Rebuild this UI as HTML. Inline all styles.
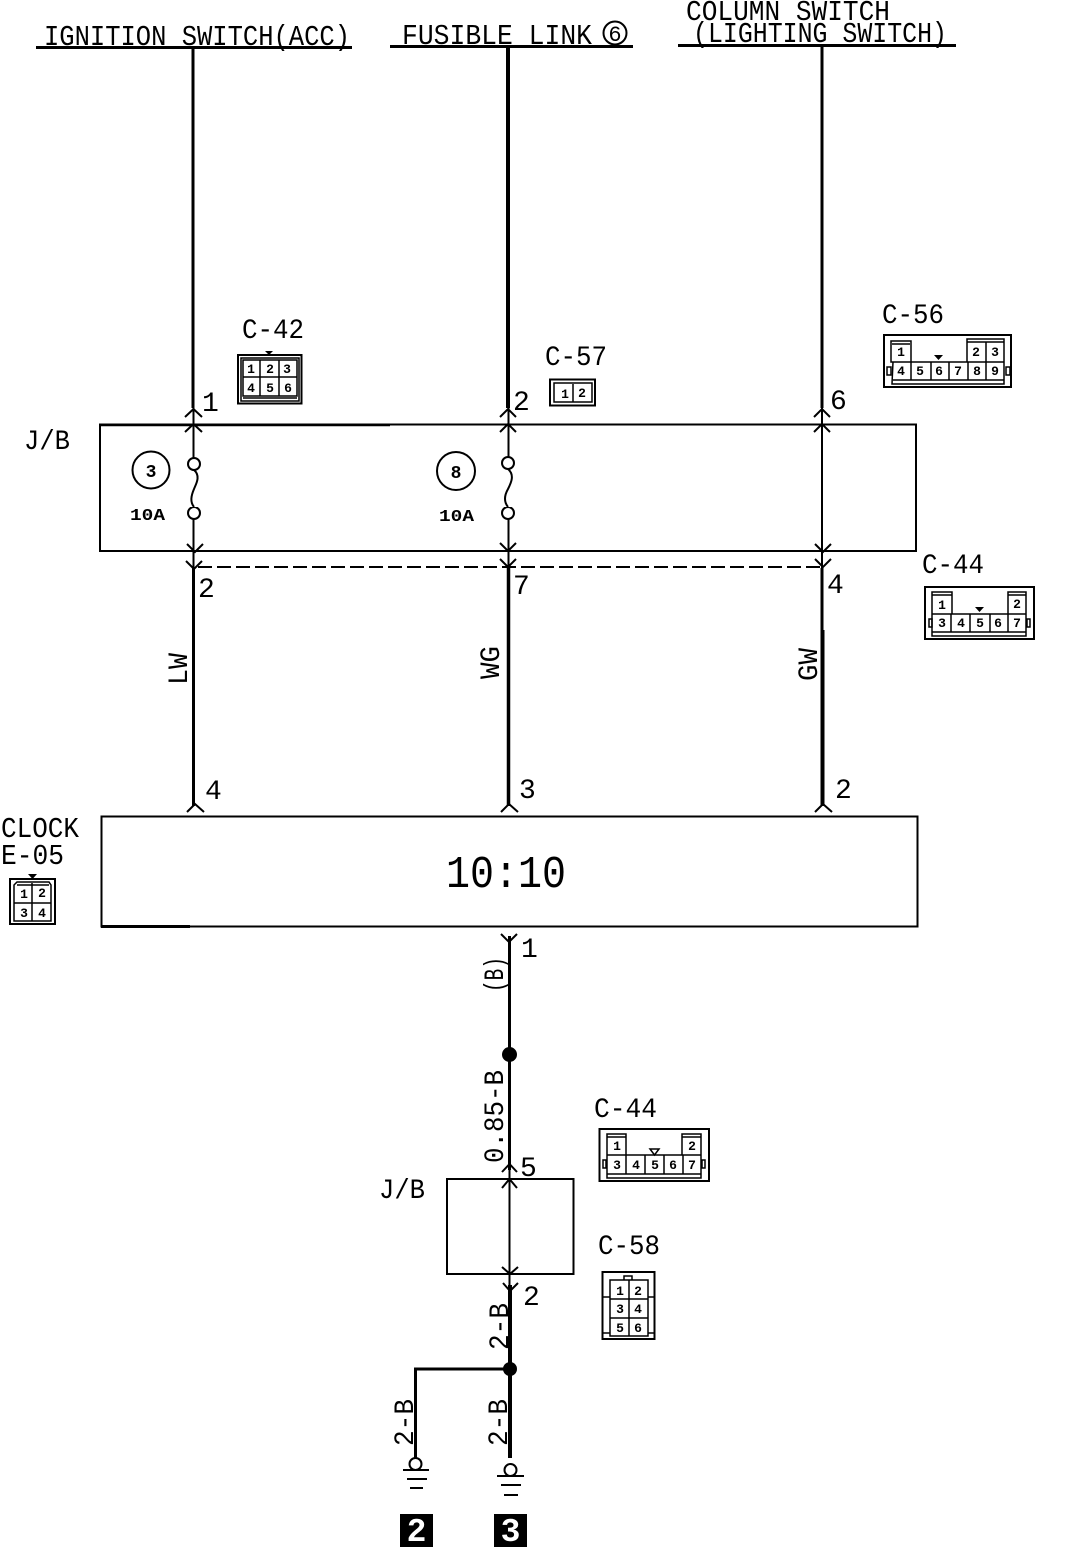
<!DOCTYPE html>
<html><head><meta charset="utf-8"><style>
html,body{margin:0;padding:0;background:#fff}
svg{display:block}
text{font-family:"Liberation Mono",monospace;fill:#000}
.l{font-size:29px}
.n{font-size:28px}
.c{font-size:13px;font-weight:bold;text-anchor:middle}
.w{fill:none;stroke:#000}
.b{fill:none;stroke:#000;stroke-width:2}
.cn{fill:none;stroke:#000;stroke-width:1.5}
</style></head><body>
<svg width="1072" height="1556" viewBox="0 0 1072 1556" xmlns="http://www.w3.org/2000/svg">
<rect width="1072" height="1556" fill="#fff"/>

<!-- top labels -->
<text class="l" x="44" y="45" textLength="306" lengthAdjust="spacingAndGlyphs">IGNITION SWITCH(ACC)</text>
<path d="M36 47.500H352" class="w" stroke-width="3"/>
<text class="l" x="402" y="44" textLength="190" lengthAdjust="spacingAndGlyphs">FUSIBLE LINK</text>
<circle cx="615" cy="33" r="11.500" class="b"/>
<text x="615" y="41" font-size="22" text-anchor="middle">6</text>
<path d="M390 46.500H633" class="w" stroke-width="3"/>
<text class="l" x="686" y="20" textLength="204" lengthAdjust="spacingAndGlyphs">COLUMN SWITCH</text>
<text class="l" x="693" y="42" textLength="254" lengthAdjust="spacingAndGlyphs">(LIGHTING SWITCH)</text>
<path d="M678 45.500H956" class="w" stroke-width="3"/>

<!-- main wires -->
<path d="M193 48V408" class="w" stroke-width="3"/>
<path d="M508 48V408" class="w" stroke-width="4"/>
<path d="M822 46V408" class="w" stroke-width="3"/>

<!-- J/B big -->
<rect x="100" y="424.500" width="816" height="126.500" class="b"/>
<path d="M100 425H390" class="w" stroke-width="2.500"/>
<text class="n" x="24" y="449" textLength="46" lengthAdjust="spacingAndGlyphs">J/B</text>
<path d="M193.500 408V570M508.500 408V570M822 408V570" class="w" stroke-width="2"/>
<!-- arrowheads -->
<path d="M185 417L193.500 409L202 417M185 432L193.500 424L202 432M500 417L508 409L516 417M500 432L508 424L516 432M814 417L822 409L830 417M814 432L822 424L830 432" class="b"/>
<path d="M187 544L195 552L203 544M186 561L194 569L202 561M500 543L508 551L516 543M500 559L508 567L516 559M815 544L823 552L831 544M815 559L823 567L831 559" class="b"/>
<!-- fuses -->
<circle cx="194" cy="464" r="6" fill="#fff" stroke="#000" stroke-width="2"/>
<circle cx="194" cy="513" r="6" fill="#fff" stroke="#000" stroke-width="2"/>
<rect x="190" y="471" width="8" height="36" fill="#fff"/>
<path d="M194 470C201 476 196 484 194 489C191 496 190 502 194 507" class="b"/>
<circle cx="508" cy="463" r="6" fill="#fff" stroke="#000" stroke-width="2"/>
<circle cx="508" cy="513" r="6" fill="#fff" stroke="#000" stroke-width="2"/>
<rect x="504" y="470" width="8" height="37" fill="#fff"/>
<path d="M508 469C515 475 511 483 508 489C504 496 504 502 508 507" class="b"/>
<circle cx="151" cy="470" r="18.500" class="b"/>
<text x="151" y="477" font-size="18" font-weight="bold" text-anchor="middle">3</text>
<circle cx="456" cy="471" r="19" class="b"/>
<text x="456" y="478" font-size="18" font-weight="bold" text-anchor="middle">8</text>
<text x="130" y="520" font-size="17" font-weight="bold" textLength="35" lengthAdjust="spacingAndGlyphs">10A</text>
<text x="439" y="521" font-size="17" font-weight="bold" textLength="35" lengthAdjust="spacingAndGlyphs">10A</text>

<!-- pin numbers -->
<text class="n" x="202" y="411">1</text>
<text class="n" x="513" y="410">2</text>
<text class="n" x="830" y="409">6</text>
<text class="n" x="198" y="597">2</text>
<text class="n" x="513" y="594">7</text>
<text class="n" x="827" y="593">4</text>
<text class="n" x="205" y="799">4</text>
<text class="n" x="519" y="798">3</text>
<text class="n" x="835" y="798">2</text>
<text class="n" x="521" y="957">1</text>
<text class="n" x="520" y="1176">5</text>
<text class="n" x="523" y="1305">2</text>

<!-- dashed -->
<path d="M198 567H820" class="w" stroke-width="2" stroke-dasharray="14 5"/>

<!-- lower wires -->
<path d="M193.500 568V806" class="w" stroke-width="3"/>
<path d="M508.500 568V806" class="w" stroke-width="3.500"/>
<path d="M822 568V630" class="w" stroke-width="3"/>
<path d="M822.500 630V806" class="w" stroke-width="4"/>
<path d="M187 812L195 804L204 812M501 812L509 804L518 812M815 812L823 804L832 812" class="b"/>
<text class="n" transform="translate(187,685) rotate(-90)" textLength="32" lengthAdjust="spacingAndGlyphs">LW</text>
<text class="n" transform="translate(499,679) rotate(-90)" textLength="33" lengthAdjust="spacingAndGlyphs">WG</text>
<text class="n" transform="translate(817,681) rotate(-90)" textLength="33" lengthAdjust="spacingAndGlyphs">GW</text>

<!-- clock -->
<rect x="101.500" y="816.500" width="816" height="110" class="b"/>
<path d="M101 926.500H190" class="w" stroke-width="3"/>
<text x="446" y="887" font-size="45" textLength="120" lengthAdjust="spacingAndGlyphs">10:10</text>
<text class="l" x="1" y="837" textLength="78" lengthAdjust="spacingAndGlyphs">CLOCK</text>
<text class="l" x="1" y="864" textLength="63" lengthAdjust="spacingAndGlyphs">E-05</text>

<!-- lower -->
<path d="M501 934L509 942L517 934" class="b"/>
<path d="M509.500 936V1170" class="w" stroke-width="3"/>
<circle cx="509.500" cy="1054.500" r="7.500" fill="#000"/>
<text class="n" transform="translate(503,992) rotate(-90)" textLength="35" lengthAdjust="spacingAndGlyphs">(B)</text>
<text class="n" transform="translate(503,1163) rotate(-90)" textLength="93" lengthAdjust="spacingAndGlyphs">0.85-B</text>
<rect x="447" y="1179" width="126.500" height="95" class="b"/>
<text class="n" x="379" y="1198" textLength="46" lengthAdjust="spacingAndGlyphs">J/B</text>
<path d="M509.500 1168V1290" class="w" stroke-width="2"/>
<path d="M502 1172L509.500 1164L517 1172M502 1188L509.500 1179L517 1188M502 1267L510 1274L518 1267M503 1283L510 1291L518 1283" class="b"/>
<path d="M510 1285V1458" class="w" stroke-width="4"/>
<circle cx="510" cy="1369" r="7" fill="#000"/>
<path d="M510 1369H415.500V1458" class="w" stroke-width="3"/>
<text class="n" transform="translate(508,1350) rotate(-90)" textLength="47" lengthAdjust="spacingAndGlyphs">2-B</text>
<text class="n" transform="translate(413,1446) rotate(-90)" textLength="47" lengthAdjust="spacingAndGlyphs">2-B</text>
<text class="n" transform="translate(507,1446) rotate(-90)" textLength="47" lengthAdjust="spacingAndGlyphs">2-B</text>

<!-- grounds -->
<circle cx="415.500" cy="1464" r="6" fill="#fff" stroke="#000" stroke-width="2"/>
<path d="M403 1470H429M407 1479H427M410 1488H423" class="b"/>
<circle cx="510.500" cy="1470" r="6" fill="#fff" stroke="#000" stroke-width="2"/>
<path d="M497 1476H524M501 1485H521M504 1495H518" class="b"/>
<rect x="400" y="1514" width="33" height="33" fill="#000"/>
<text x="416.500" y="1541" font-size="33" font-weight="bold" text-anchor="middle" style="fill:#fff">2</text>
<rect x="494" y="1514" width="33" height="33" fill="#000"/>
<text x="510.500" y="1541" font-size="33" font-weight="bold" text-anchor="middle" style="fill:#fff">3</text>

<!-- connector labels -->
<text class="n" x="242" y="338" textLength="62" lengthAdjust="spacingAndGlyphs">C-42</text>
<text class="n" x="545" y="365" textLength="62" lengthAdjust="spacingAndGlyphs">C-57</text>
<text class="n" x="882" y="323" textLength="62" lengthAdjust="spacingAndGlyphs">C-56</text>
<text class="n" x="922" y="573" textLength="62" lengthAdjust="spacingAndGlyphs">C-44</text>
<text class="n" x="594" y="1117" textLength="63" lengthAdjust="spacingAndGlyphs">C-44</text>
<text class="n" x="598" y="1254" textLength="62" lengthAdjust="spacingAndGlyphs">C-58</text>

<!-- C-42 -->
<g>
<rect x="238" y="355" width="63.500" height="48.500" class="b"/>
<rect x="241" y="358" width="58" height="43" class="cn"/>
<path d="M243 360H297V396H243ZM243 377H297M260 360V396M279 360V396M243 398H297" class="cn"/>
<path d="M265 351H273L269 355Z" fill="#000"/>
<text class="c" x="251" y="373">1</text><text class="c" x="270" y="373">2</text><text class="c" x="287" y="373">3</text>
<text class="c" x="251" y="392">4</text><text class="c" x="270" y="392">5</text><text class="c" x="288" y="392">6</text>
</g>

<!-- C-57 -->
<g>
<rect x="550" y="379.500" width="45" height="26" class="b" stroke-width="2.500"/>
<rect x="554" y="383" width="38" height="19" class="cn"/>
<path d="M573 384V402" class="cn"/>
<text class="c" x="565" y="398">1</text><text class="c" x="582" y="397">2</text>
</g>

<!-- C-56 -->
<g>
<rect x="884" y="335" width="127" height="52" class="b"/>
<path d="M891 341H911V362H891ZM892 344H910M967 339H1004V362H967ZM967 342H1004M986 342V362M893 362H1004V384H892ZM893 380H1004M911 362V380M931 362V380M949 362V380M968 362V380M986 362V380" class="cn"/>
<rect x="887" y="367" width="4" height="8" class="cn"/><rect x="1006" y="367" width="4" height="8" class="cn"/>
<path d="M934 355H943L938.500 360Z" fill="#000"/>
<text class="c" x="901" y="356">1</text><text class="c" x="976" y="356">2</text><text class="c" x="995" y="356">3</text>
<text class="c" x="901" y="375">4</text><text class="c" x="920" y="375">5</text><text class="c" x="939" y="375">6</text><text class="c" x="958" y="375">7</text><text class="c" x="977" y="375">8</text><text class="c" x="995" y="375">9</text>
</g>

<!-- C-44 right -->
<g>
<rect x="925" y="587" width="109" height="52" class="b"/>
<path d="M932 592H952V614H932ZM932 595H952M1008 592H1026V614H1008ZM1008 595H1026M932 614H1026V636H932ZM932 632H1026M951 614V632M970 614V632M990 614V632M1008 614V632" class="cn"/>
<rect x="929" y="619" width="3" height="8" class="cn"/><rect x="1027" y="619" width="3" height="8" class="cn"/>
<path d="M975 607H984L979.500 612Z" fill="#000"/>
<text class="c" x="942" y="609">1</text><text class="c" x="1017" y="608">2</text>
<text class="c" x="942" y="627">3</text><text class="c" x="961" y="627">4</text><text class="c" x="980" y="627">5</text><text class="c" x="998" y="627">6</text><text class="c" x="1017" y="627">7</text>
</g>

<!-- C-44 lower -->
<g>
<rect x="599.500" y="1129" width="109.500" height="52" class="b"/>
<path d="M607 1134H626V1155H607ZM607 1137H626M682 1134H701V1155H682ZM682 1137H701M607 1155H701V1178H607ZM607 1174H701M626 1155V1174M645 1155V1174M664 1155V1174M683 1155V1174" class="cn"/>
<rect x="603" y="1160" width="3" height="8" class="cn"/><rect x="702" y="1160" width="3" height="8" class="cn"/>
<path d="M650 1149H659L654.500 1155Z" fill="none" stroke="#000" stroke-width="1.500"/>
<text class="c" x="617" y="1150">1</text><text class="c" x="692" y="1150">2</text>
<text class="c" x="617" y="1169">3</text><text class="c" x="636" y="1169">4</text><text class="c" x="655" y="1169">5</text><text class="c" x="673" y="1169">6</text><text class="c" x="692" y="1169">7</text>
</g>

<!-- C-58 -->
<g>
<rect x="602.500" y="1272" width="52" height="67" class="b"/>
<path d="M610 1280H648V1336H610ZM610 1299H648M610 1318H648M629 1280V1336M624 1280V1276H632V1280M603 1297H610M648 1297H654M603 1333H610M648 1333H654" class="cn"/>
<text class="c" x="620" y="1295">1</text><text class="c" x="638" y="1295">2</text>
<text class="c" x="620" y="1313">3</text><text class="c" x="638" y="1313">4</text>
<text class="c" x="620" y="1332">5</text><text class="c" x="638" y="1332">6</text>
</g>

<!-- E-05 -->
<g>
<rect x="10" y="879" width="45" height="45" class="b"/>
<path d="M14 885L17 882H49L51 885V921H14ZM17 885H49M14 903H51M32 883V921" class="cn"/>
<path d="M28 874H37L32.500 879Z" fill="#000"/>
<text class="c" x="24" y="898">1</text><text class="c" x="42" y="897">2</text>
<text class="c" x="24" y="917">3</text><text class="c" x="42" y="917">4</text>
</g>
</svg>
</body></html>
